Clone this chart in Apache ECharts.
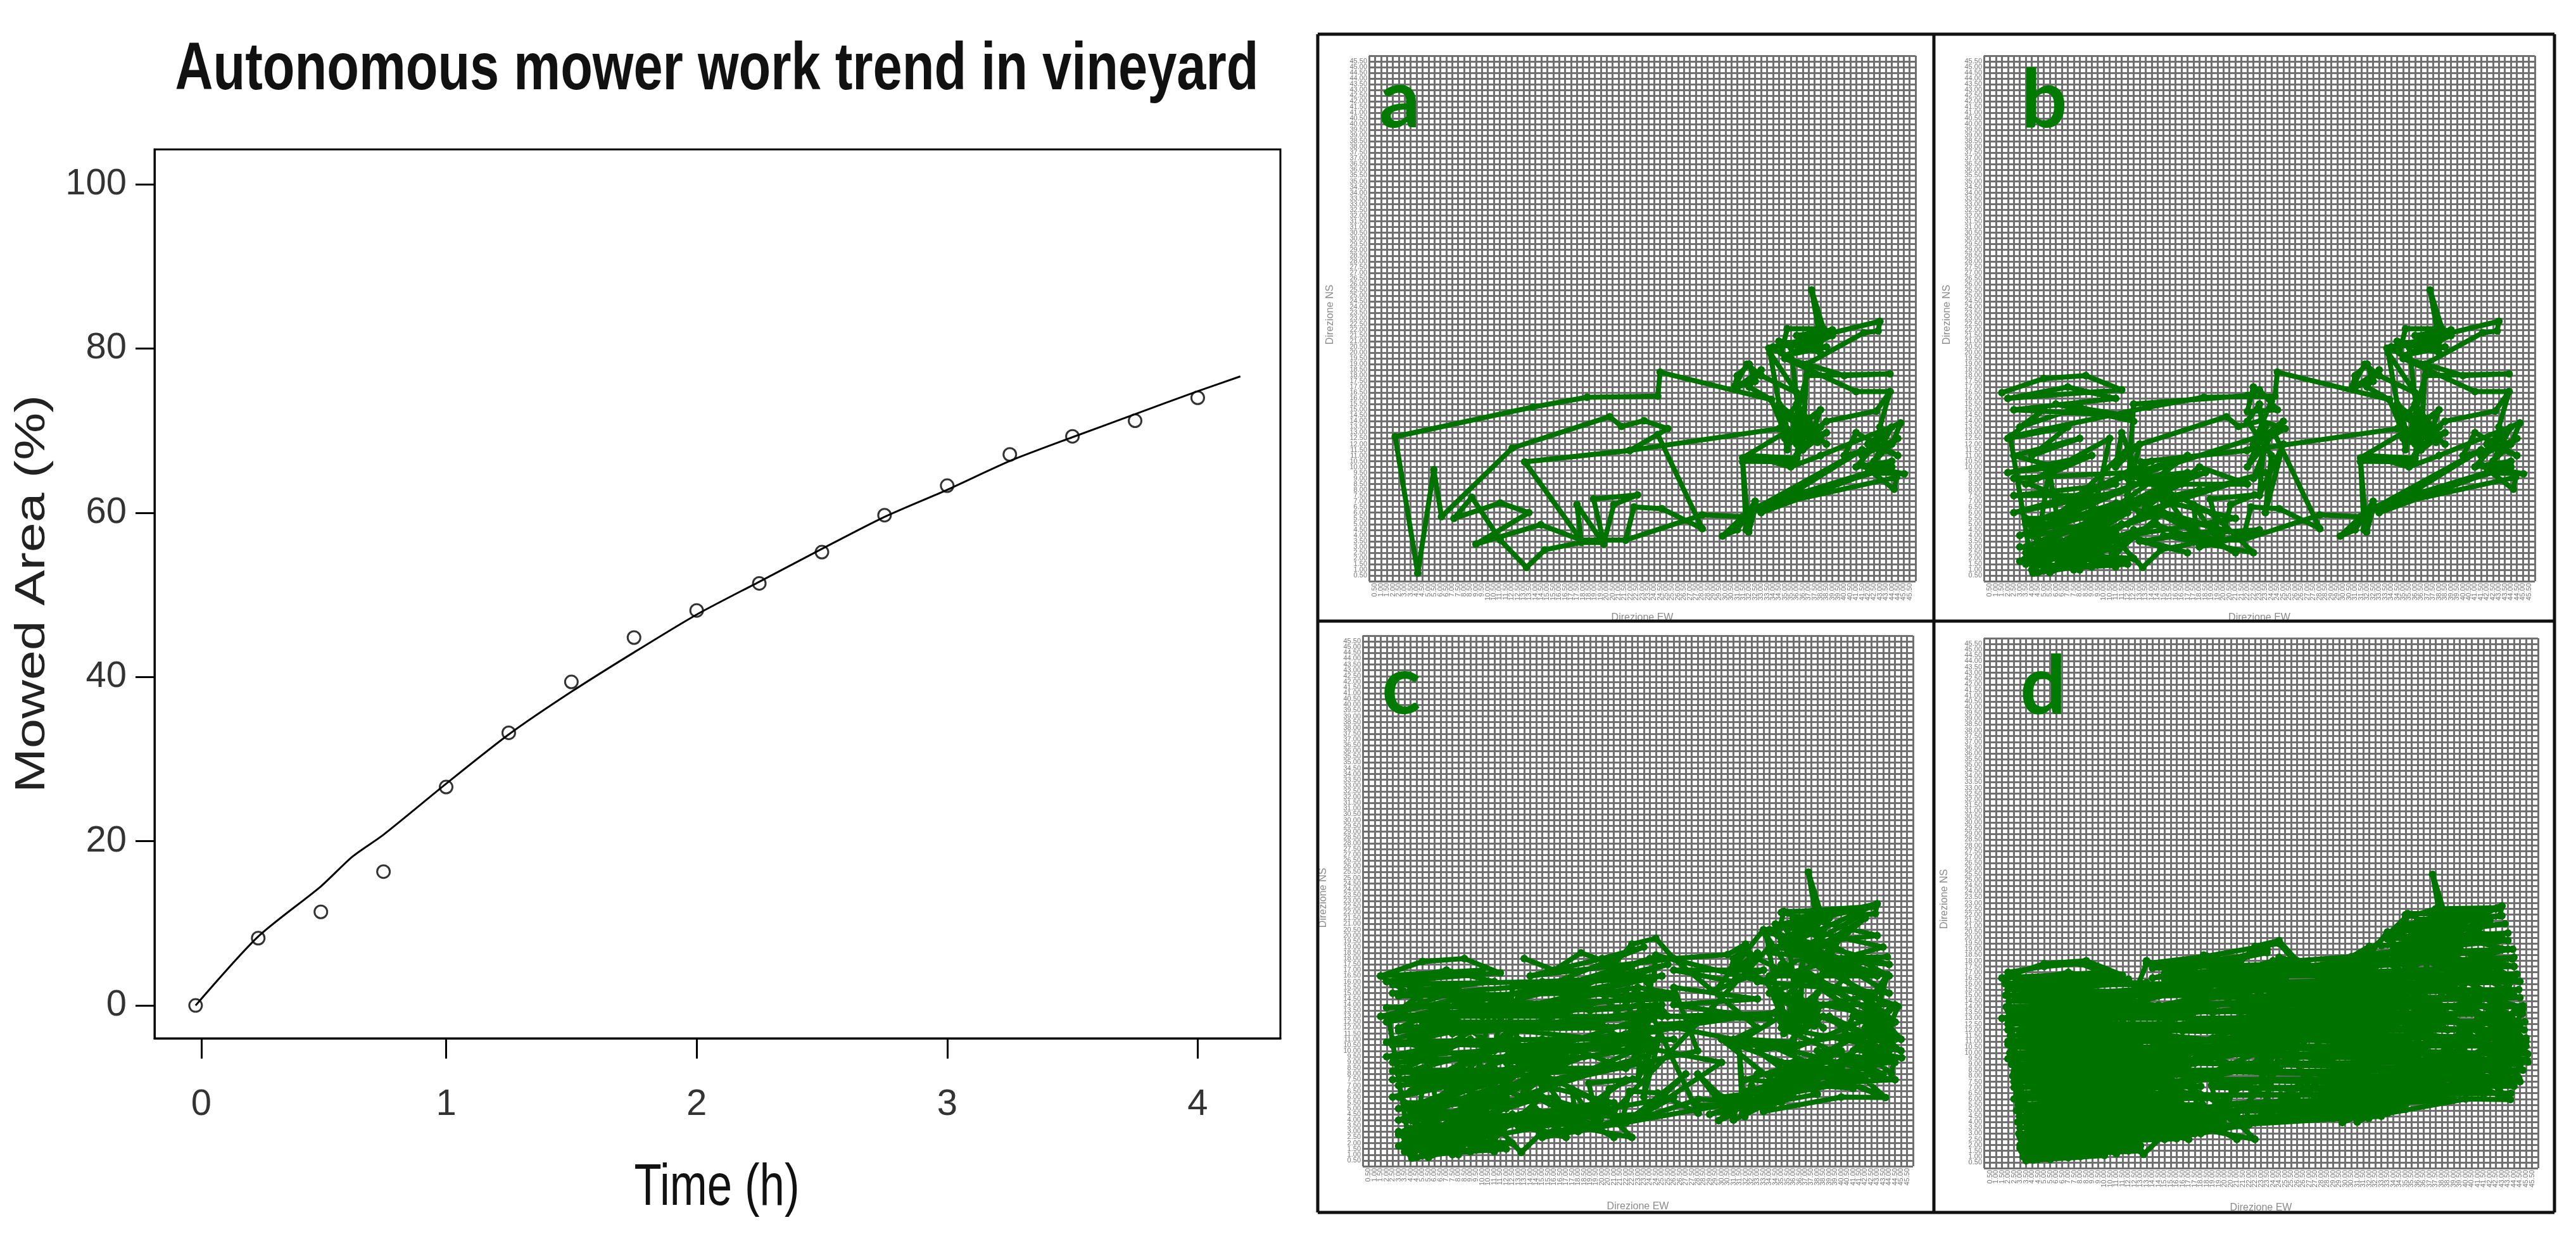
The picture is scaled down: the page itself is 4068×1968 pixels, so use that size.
<!DOCTYPE html>
<html><head><meta charset="utf-8">
<style>html,body{margin:0;padding:0;background:#fff}#c{width:4068px;height:1968px}</style>
<script src="https://cdn.jsdelivr.net/npm/echarts@6/dist/echarts.min.js"></script>
</head><body><div id="c"></div>
<script>
// ---- Mowed area chart data ----
const timePoints = [0,0.25,0.5,0.75,1,1.25,1.5,1.75,2,2.25,2.5,2.75,3,3.25,3.5,3.75,4];
const mowedPoints = [0,8.2,11.4,16.3,26.6,33.2,39.4,44.8,48.1,51.4,55.2,59.7,63.3,67.1,69.3,71.2,74];
const trendTime = [0,0.25,0.5,0.625,0.75,1,1.25,1.5,1.75,2,2.25,2.5,2.75,3,3.25,3.5,3.75,4,4.17];
const trendArea = [0,8.4,14.5,18.1,20.8,27,33,38.2,43,47.6,51.6,55.6,59.5,62.8,66.3,69.2,72,74.8,76.6];
const xTicks = [0.023,1,2,3,4];
const yTicks = [0,20,40,60,80,100];
const panelLetters = ['a','b','c','d'];

// ---- Mower tracks, in grid cells (x east, y north) ----
const trackA = [[67.7,31.8],[49,36.6],[48.6,32.4],[36.7,32.2],[27.6,30.5],[4.4,25.3],[8.2,1.4],[10.9,19.5],[12.2,11.3],[24.1,23.3],[40.5,28.8],[42.5,27.1],[46.3,28.1],[50.3,26.7],[43.9,22.9],[26.2,20.9],[35.7,7.2],[35,13.4],[39.5,6.5],[41.2,13.4],[45.2,15.1],[37.8,14.4],[39.5,6.8],[35.7,6.8],[29.6,5.5],[26.5,2.4],[22.1,7.2],[17.3,14.7],[14.3,11],[22.1,13.7],[26.9,12],[18,6.5],[28.9,9.9],[35.7,7.2],[43.2,7.2],[44.6,13],[49.3,12.7],[56.1,9.2],[48.6,25.7],[43.9,22.9],[69,26.7],[72,31],[75,25],[70,29],[76,27],[72,22],[73,30],[75.5,24.3],[69.5,30],[74,28],[71,24.5],[77,26],[73,23],[70,27.5],[69,31],[77,24],[72,28],[75,29],[71,26],[76,30],[74,24],[70,25],[75,27],[72,24],[77,28],[85.4,29.8],[87.7,33.2],[86,27],[87.7,33.2],[82,33.2],[70,39],[73.7,38],[83.3,43.5],[85.7,43.8],[86,45.5],[67.3,40.8],[69.4,40],[70.4,44.2],[76.5,44.2],[74.5,51],[76,42],[68,41],[78,43],[70,39.5],[77,41],[69,42],[76,40],[72,43],[78,44],[71,41],[73,23],[73.7,38],[80,36],[87.7,36.3],[73.7,36],[70.4,23],[67.5,40],[72,33],[66,36],[63.6,38],[61.6,34.2],[62,36],[64,38],[65,35],[62,34],[66,37],[64,34],[67.7,31.8],[70,26],[62.9,21.6],[71.8,20.9],[63,21],[72,21.5],[64,22],[71,20],[76,22],[89.5,27.7],[88,24],[80,22],[82,26],[89,22],[84,24],[88,27],[85,21],[89,25],[83,22],[87,26],[82,20],[88,21],[84,19],[90.1,18.8],[83.3,20.2],[88.4,16.1],[88.8,18.2],[65,12.7],[83,23],[66,12],[87,20],[65,13],[88,20],[65,12.7],[63.9,8.6],[62.9,20.9],[63.5,9],[65,14],[62,9],[59.5,7.9],[62.9,11.3],[56.1,11.6],[43.2,7.2]];
const trackB = [[3,33],[10,35.5],[17,36],[23,33.5],[4,32],[14,34],[22,32],[5,30],[24,29],[12,31],[25,28],[16,30.5],[6,27],[10,30],[4,25],[14,27],[8,22],[16,25],[5,22],[12,20],[4,19],[18,22],[7,17],[21,25],[19,15],[5,15],[22,17],[5,12],[24,16],[7,10],[28,18],[6,8],[26,14],[7,6],[33,17],[7,4],[24,12],[8,2],[23,10],[7,3],[24,8],[9,1.5],[25,4],[8,5],[22,6],[10,2],[24,3],[12,7],[15,2],[8,8],[14,9],[6,3.5],[13,5],[22,2.5],[20,9],[16,2],[19,7],[7,11],[18,11],[11,1.5],[17,4],[6,6],[20,4],[8,9.5],[20,12],[5,18],[24,19],[28,21],[20,17],[34,22],[22,13],[37,19],[25,17],[44,17],[36,20],[26,12],[47,19],[30,14],[42,11],[24,8],[34,5],[26,7],[40,9],[27,13],[42,5],[32,11],[44,8],[36,6],[46,9],[30,8],[45,5],[38,12],[26,18],[23,26],[22,20],[26,24],[24,15],[25,31],[44,32.5],[46,33.5],[49,30],[44,29.7],[45,34],[48,31.5],[45,24],[50,28],[44,20],[47,27],[46,15],[50,24],[47,12],[48,22],[44,28],[46,31],[47,23],[45,18],[48,26],[24,18],[34,19],[23,13],[36,16],[24,10],[30,12],[22,5],[25,9],[21,3],[23,6],[10,4],[20,5.5],[9,7],[20,10.5],[8,3],[18,2.5],[7,5],[18,8],[10,10],[22,8.5]];
const trackC = [[27,36],[32,34],[36.5,37],[42,35],[45,38.5],[49,39.5],[52,36],[28,33],[40,36],[47,38],[30,31],[45,33],[51,35],[26,29],[48,36],[34,30],[50,33],[24,27],[46,31],[52,30],[20,26],[49,28],[38,27],[8,31],[30,28],[10,25],[40,25],[15,23],[50,27],[30,24.5],[52,24],[28,19],[50,22],[34,15],[56,20],[52,31],[66,29],[52,28],[68,25.5],[51,26],[69,26.5],[50,24.5],[62,22],[66,24],[52,36],[61,36.7],[64,38.5],[62,32],[52,34],[67,34],[59,30.5],[67,41],[88,35],[68,37],[86,45.5],[70,42],[87,38],[66,32],[88,30],[72,40],[89,25],[70,35],[90,22],[76,38],[84,43],[74,34],[86,26],[68,30],[84,36],[78,30],[90,20],[70,24],[87,16],[68,21],[86,12.5],[72,18],[89,15],[70,14],[80,20],[64,15],[82,13.5],[60,22],[72,12],[62,10],[56,16],[62,8],[78,16],[58,9],[76,12.5],[66,20],[88,24],[67,9.5],[80,12],[87.4,11.9],[84,15],[30,5],[44,15],[36,9],[52,12],[44,7.5],[54,16],[47,9],[60,18],[40,22],[3,26],[20,30],[6,24],[22,25],[5,21],[26,22],[6,16],[24,21],[8,13],[28,17],[6,12],[22,21],[3,33],[20,34],[5,31.5],[30,32],[50,33],[6,29.5],[36,30],[52,29],[4,27.5],[33,28],[5,26],[50,26],[6,23.5],[40,24],[48,20],[4,21.5],[30,22],[52,22],[5,19],[30,18],[44,20],[6,14],[40,17],[5,16.5],[24,15],[6,10],[32,12],[7,8],[28,9],[6,5.5],[40,11],[7,2.5],[36,8],[8,6.5],[42,9.5],[68,38],[86,40],[70,44],[85,45],[72,42],[88,33],[70,38],[88,28],[74,36],[86,33],[68,33],[80,40],[76,32],[89,28],[72,28],[88,21],[78,26],[86,18],[76,20],[89,18],[70,18],[84,15],[66,16],[80,17],[64,13],[76,14],[60,12],[70,11],[56,10.5]];
const trackD = [[4,34],[10,35],[16,35.5],[21,33.5],[5,33.2],[24,32.8],[3.5,32],[27,32.2],[4,31],[26,30.6],[3.6,30],[28,30.2],[4.2,29],[27,28.9],[3.7,28],[29,28.3],[4.2,27],[28,27],[3.8,26],[30,26.4],[4.1,25],[29,25],[4,24],[31,24.3],[4.4,23],[30,23],[4,22],[32,22.3],[4.6,21],[31,21],[4.3,20],[33,20.2],[4.9,19],[32,18.9],[4.6,18],[34,18.3],[5.1,17],[33,17],[4.8,16],[35,16.2],[5.3,15],[34,15],[5,14],[36,14.2],[5.5,13],[35,13],[5.2,12],[37,12.2],[5.7,11],[36,11],[5.4,10],[38,10.3],[5.9,9],[37,9],[5.6,8],[39,8.2],[6,7],[38,7],[5.8,6],[35,6],[6.2,5],[32,5.1],[6,4],[26,3.9],[6.3,3],[26,3],[6.5,2],[20,2.2],[7,1.3],[14,1.8],[27,35.5],[37,36.8],[49,39],[52,35.5],[28,34.7],[47,37.4],[30,33.8],[51,34.6],[60,36],[64,37.8],[67,40.5],[70,43.5],[75,45],[85.5,45.2],[70,42.3],[86,43.8],[68,41],[86.5,42.4],[67,39.8],[87,40.8],[66,38.6],[87,39.5],[64,37.2],[87.8,38],[53,35],[88,36.6],[30,32.8],[88,35],[50,33.4],[88.5,33.7],[31,31.6],[89,32.4],[40,30.8],[88.8,31],[35,29.6],[89,29.6],[33,28.4],[89.5,28.2],[35,27.2],[89.4,26.8],[34,26],[89.8,25.4],[36,25],[89.7,24],[33,23.8],[90,22.6],[38,22.6],[90,21.2],[34,21.2],[90.3,19.8],[36,19.8],[90.3,18.4],[35,18.2],[89.5,17],[37,16.8],[88.8,15.6],[36,15.4],[88,14.2],[38,14],[87.5,13],[37,12.6],[83,12.8],[40,11.2],[78,11.8],[38,9.8],[70,10.2],[41,8.6],[66,9],[40,7.4],[58,8.6]];

// ---- Layout ----
const panels = [
  {left:2162,right:3025,top:88,bottom:918,tracks:[trackA],letterX:2178,letterY:196,nsX:2101,nsY:497,ewY:976},
  {left:3133,right:4003,top:88,bottom:918,tracks:[trackA,trackB],letterX:3192,letterY:196,nsX:3075,nsY:497,ewY:976},
  {left:2152,right:3021,top:1004,bottom:1842,tracks:[trackA,trackB,trackC],letterX:2182,letterY:1122,nsX:2090,nsY:1418,ewY:1906},
  {left:3133,right:4008,top:1008,bottom:1845,tracks:[trackA,trackB,trackC,trackD],letterX:3190,letterY:1122,nsX:3071,nsY:1420,ewY:1908}
];
const green = '#007200', sans = '"Liberation Sans"', H = 1968;
const grid=[{left:244,top:236,width:1778,height:1404,show:true,borderColor:'#000',borderWidth:3,z:1}];
const boxLine={show:true,onZero:false,lineStyle:{color:'#000',width:3}};
const xAxis=[{gridIndex:0,type:'value',min:-0.164,max:4.33,position:'bottom',z:5,
  axisLine:boxLine,splitLine:{show:false},
  axisTick:{show:true,length:32,lineStyle:{color:'#000',width:3},customValues:xTicks},
  axisLabel:{show:true,customValues:xTicks,margin:76,color:'#333',fontFamily:sans,fontSize:58,formatter:v=>String(Math.round(v))}}];
const yAxis=[{gridIndex:0,type:'value',min:-4,max:104.24,position:'left',z:5,
  axisLine:boxLine,splitLine:{show:false},
  axisTick:{show:true,length:30,lineStyle:{color:'#000',width:3},customValues:yTicks},
  axisLabel:{show:true,customValues:yTicks,margin:44,color:'#333',fontFamily:sans,fontSize:58,padding:[8,0,0,0]}}];
const series=[
  {type:'line',xAxisIndex:0,yAxisIndex:0,data:trendTime.map((t,i)=>[t,trendArea[i]]),showSymbol:false,smooth:0.25,lineStyle:{color:'#000',width:3},silent:true},
  {type:'scatter',xAxisIndex:0,yAxisIndex:0,data:timePoints.map((t,i)=>[t,mowedPoints[i]]),symbol:'circle',symbolSize:20,itemStyle:{color:'transparent',borderColor:'#000',borderWidth:3},silent:true}
];
const graphic=[
  {type:'text',x:1132,y:112,scaleX:0.783,z:20,style:{text:'Autonomous mower work trend in vineyard',font:'bold 106px "Liberation Sans"',fill:'#111',align:'center',verticalAlign:'middle'}},
  {type:'text',x:1132,y:1878,scaleX:0.77,z:20,style:{text:'Time (h)',font:'92px "Liberation Sans"',fill:'#111',align:'center',verticalAlign:'middle'}},
  {type:'text',x:52,y:938,rotation:Math.PI/2,scaleX:1.26,z:20,style:{text:'Mowed Area (%)',font:'67px "Liberation Sans"',fill:'#222',align:'center',verticalAlign:'middle'}}
];
panels.forEach((p,i)=>{
  const g=i+1;
  grid.push({left:p.left,top:p.top,width:p.right-p.left,height:p.bottom-p.top,z:2});
  const lab={show:true,interval:0,color:'#777',fontFamily:sans,fontSize:11,margin:3,formatter:v=>(v*0.5).toFixed(2)};
  const sp={show:true,lineStyle:{color:'#707070',width:3}};
  xAxis.push({gridIndex:g,type:'value',min:0,max:92,interval:1,axisLine:{show:false},axisTick:{show:false},splitLine:sp,axisLabel:{...lab,rotate:90}});
  yAxis.push({gridIndex:g,type:'value',min:0,max:92,interval:1,axisLine:{show:false},axisTick:{show:false},splitLine:sp,axisLabel:lab});
  p.tracks.forEach(t=>series.push({type:'line',xAxisIndex:g,yAxisIndex:g,data:t,showSymbol:true,showAllSymbol:true,symbol:'circle',symbolSize:12,clip:false,
    itemStyle:{color:green},lineStyle:{color:green,width:8,join:'round'},silent:true,z:3}));
  graphic.push({type:'text',x:p.letterX,y:p.letterY+28,z:30,style:{text:panelLetters[i],font:'bold 128px Lato',fill:'#007a00',verticalAlign:'bottom'}});
  graphic.push({type:'text',x:p.nsX,y:p.nsY,rotation:Math.PI/2,z:5,style:{text:'Direzione NS',font:'16px "Liberation Sans"',fill:'#8a8a8a',align:'center',verticalAlign:'middle'}});
  graphic.push({type:'text',x:(p.left+p.right)/2,y:p.ewY,z:5,style:{text:'Direzione EW',font:'16px "Liberation Sans"',fill:'#8a8a8a',align:'center',verticalAlign:'middle'}});
});
// masks and panel frame
const frameL=2081,frameR=4034,frameT=54,frameB=1915,divX=3054,divY=981;
graphic.push({type:'rect',z:40,shape:{x:frameL,y:divY,width:frameR-frameL,height:12},style:{fill:'#fff'}});
graphic.push({type:'rect',z:40,shape:{x:frameL,y:frameB,width:frameR-frameL,height:20},style:{fill:'#fff'}});
[[frameL,frameT,frameR,frameT],[frameL,frameB,frameR,frameB],[frameL,divY,frameR,divY],[frameL,frameT,frameL,frameB],[frameR,frameT,frameR,frameB],[divX,frameT,divX,frameB]].forEach(l=>{
  graphic.push({type:'line',z:50,shape:{x1:l[0],y1:l[1],x2:l[2],y2:l[3]},style:{stroke:'#111',lineWidth:5}});
});
const chart=echarts.init(document.getElementById('c'),null,{width:4068,height:H,renderer:'canvas'});
chart.setOption({animation:false,backgroundColor:'#fff',grid,xAxis,yAxis,series,graphic});
</script></body></html>
